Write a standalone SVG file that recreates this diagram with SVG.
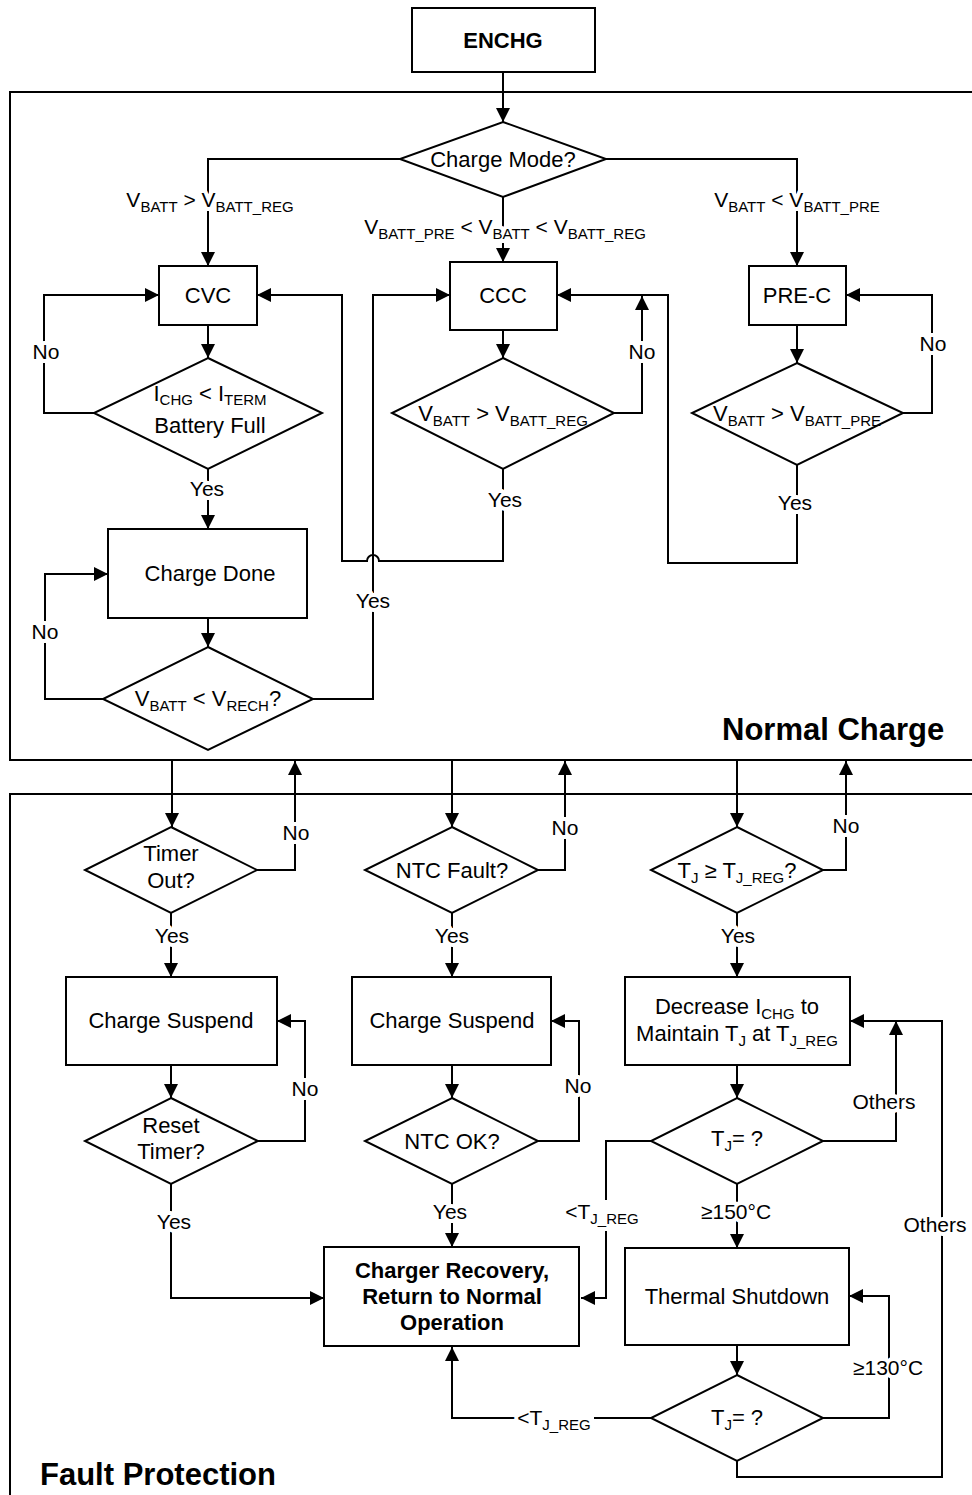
<svg xmlns="http://www.w3.org/2000/svg" width="972" height="1495" viewBox="0 0 972 1495">
<style>
text{font-family:"Liberation Sans",Arial,sans-serif;fill:#000}
.t{font-size:22px;text-anchor:middle}
.b{font-weight:bold}
.sub{font-size:15px}
.lbl{font-size:21px;text-anchor:middle;stroke:#fff;stroke-width:8px;stroke-linejoin:round;paint-order:stroke}
.title{font-size:31px;font-weight:bold}
.shape{fill:#fff;stroke:#000;stroke-width:2}
.frame{fill:none;stroke:#000;stroke-width:2}
.c{fill:none;stroke:#000;stroke-width:2}
.a{marker-end:url(#arr)}
.bg{fill:#fff}
</style>
<defs>
<marker id="arr" markerUnits="userSpaceOnUse" markerWidth="14" markerHeight="14" refX="14" refY="7" orient="auto" viewBox="0 0 14 14">
<path d="M0,0 L14,7 L0,14 z" fill="#000"/>
</marker>
</defs>
<rect fill="#fff" x="0" y="0" width="972" height="1495"/>
<g id="frames">
<rect class="frame" x="10" y="92" width="980" height="668"/>
<rect class="frame" x="10" y="794" width="980" height="730"/>
<text class="title" x="722" y="740">Normal Charge</text>
<text class="title" x="40" y="1485">Fault Protection</text>
</g>
<g id="connectors">
<path class="c a" d="M503,72 V122"/>
<path class="c a" d="M400,159 H208 V266"/>
<path class="c a" d="M503,197 V262"/>
<path class="c a" d="M606,159 H797 V266"/>
<path class="c a" d="M208,325 V358"/>
<path class="c a" d="M94,413 H44 V295 H159"/>
<path class="c a" d="M208,469 V529"/>
<path class="c a" d="M208,618 V647"/>
<path class="c a" d="M103,699 H45 V574 H108"/>
<path class="c a" d="M313,699 H373 V295 H450"/>
<path class="c a" d="M503,330 V358"/>
<path class="c a" d="M614,413 H642 V296"/>
<path class="c a" d="M503,469 V561 H379 A6,6 0 0 0 367,561 H342 V295 H257"/>
<path class="c a" d="M797,325 V363"/>
<path class="c a" d="M903,413 H932 V295 H846"/>
<path class="c a" d="M797,465 V563 H668 V295 H557"/>
<path class="c a" d="M172,760 V827"/>
<path class="c a" d="M257,870 H295 V761"/>
<path class="c a" d="M171,913 V977"/>
<path class="c a" d="M171,1065 V1098"/>
<path class="c a" d="M258,1141 H305 V1021 H277"/>
<path class="c a" d="M171,1184 V1298 H324"/>
<path class="c a" d="M452,760 V827"/>
<path class="c a" d="M538,870 H565 V761"/>
<path class="c a" d="M452,913 V977"/>
<path class="c a" d="M452,1065 V1098"/>
<path class="c a" d="M538,1141 H579 V1021 H551"/>
<path class="c a" d="M452,1184 V1247"/>
<path class="c a" d="M737,760 V827"/>
<path class="c a" d="M823,870 H846 V761"/>
<path class="c a" d="M737,913 V977"/>
<path class="c a" d="M737,1065 V1098"/>
<path class="c a" d="M823,1141 H896 V1021"/>
<path class="c a" d="M651,1141 H606 V1298 H581"/>
<path class="c a" d="M737,1184 V1248"/>
<path class="c a" d="M737,1345 V1375"/>
<path class="c a" d="M823,1418 H889 V1296 H849"/>
<path class="c a" d="M651,1418 H452 V1347"/>
<path class="c a" d="M737,1461 V1477 H942 V1021 H850"/>
</g>
<g id="edge-labels">
<text class="lbl" x="210" y="207">V<tspan class="sub" dy="5">BATT</tspan><tspan dy="-5"> &gt; V</tspan><tspan class="sub" dy="5">BATT_REG</tspan></text>
<text class="lbl" x="505" y="234">V<tspan class="sub" dy="5">BATT_PRE</tspan><tspan dy="-5"> &lt; V</tspan><tspan class="sub" dy="5">BATT</tspan><tspan dy="-5"> &lt; V</tspan><tspan class="sub" dy="5">BATT_REG</tspan></text>
<text class="lbl" x="797" y="207">V<tspan class="sub" dy="5">BATT</tspan><tspan dy="-5"> &lt; V</tspan><tspan class="sub" dy="5">BATT_PRE</tspan></text>
<text class="lbl" x="46" y="359">No</text>
<text class="lbl" x="45" y="639">No</text>
<text class="lbl" x="642" y="359">No</text>
<text class="lbl" x="933" y="351">No</text>
<text class="lbl" x="207" y="496">Yes</text>
<text class="lbl" x="373" y="608">Yes</text>
<text class="lbl" x="505" y="507">Yes</text>
<text class="lbl" x="795" y="510">Yes</text>
<text class="lbl" x="296" y="840">No</text>
<text class="lbl" x="565" y="835">No</text>
<text class="lbl" x="846" y="833">No</text>
<text class="lbl" x="172" y="943">Yes</text>
<text class="lbl" x="452" y="943">Yes</text>
<text class="lbl" x="738" y="943">Yes</text>
<text class="lbl" x="305" y="1096">No</text>
<text class="lbl" x="578" y="1093">No</text>
<text class="lbl" x="174" y="1229">Yes</text>
<text class="lbl" x="450" y="1219">Yes</text>
<text class="lbl" x="884" y="1109">Others</text>
<text class="lbl" x="935" y="1232">Others</text>
<rect class="bg" x="565" y="1200" width="76" height="30"/>
<text class="lbl" x="602" y="1219">&lt;T<tspan class="sub" dy="5">J_REG</tspan></text>
<text class="lbl" x="736" y="1219">≥150°C</text>
<text class="lbl" x="888" y="1375">≥130°C</text>
<rect class="bg" x="516" y="1405" width="78" height="30"/>
<text class="lbl" x="554" y="1425">&lt;T<tspan class="sub" dy="5">J_REG</tspan></text>
</g>
<g id="n-enchg">
<rect class="shape" x="412" y="8" width="183" height="64"/>
<text class="t b" x="503" y="48">ENCHG</text>
</g>
<g id="n-mode">
<polygon class="shape" points="503,122 606,159 503,197 400,159"/>
<text class="t" x="503" y="167">Charge Mode?</text>
</g>
<g id="n-cvc">
<rect class="shape" x="159" y="266" width="98" height="59"/>
<text class="t" x="208" y="303">CVC</text>
</g>
<g id="n-ccc">
<rect class="shape" x="450" y="262" width="107" height="68"/>
<text class="t" x="503" y="303">CCC</text>
</g>
<g id="n-prec">
<rect class="shape" x="749" y="266" width="97" height="59"/>
<text class="t" x="797" y="303">PRE-C</text>
</g>
<g id="n-full">
<polygon class="shape" points="208,358 322,413 208,469 94,413"/>
<text class="t" x="210" y="401">I<tspan class="sub" dy="4">CHG</tspan><tspan dy="-4"> &lt; I</tspan><tspan class="sub" dy="4">TERM</tspan></text>
<text class="t" x="210" y="433">Battery Full</text>
</g>
<g id="n-ccc-check">
<polygon class="shape" points="503,358 614,413 503,469 392,413"/>
<text class="t" x="503" y="421">V<tspan class="sub" dy="5">BATT</tspan><tspan dy="-5"> &gt; V</tspan><tspan class="sub" dy="5">BATT_REG</tspan></text>
</g>
<g id="n-pre-check">
<polygon class="shape" points="797,363 903,413 797,465 692,413"/>
<text class="t" x="797" y="421">V<tspan class="sub" dy="5">BATT</tspan><tspan dy="-5"> &gt; V</tspan><tspan class="sub" dy="5">BATT_PRE</tspan></text>
</g>
<g id="n-done">
<rect class="shape" x="108" y="529" width="199" height="89"/>
<text class="t" x="210" y="581">Charge Done</text>
</g>
<g id="n-rech">
<polygon class="shape" points="208,647 313,699 208,750 103,699"/>
<text class="t" x="208" y="706">V<tspan class="sub" dy="5">BATT</tspan><tspan dy="-5"> &lt; V</tspan><tspan class="sub" dy="5">RECH</tspan><tspan dy="-5">?</tspan></text>
</g>
<g id="n-timer">
<polygon class="shape" points="171,827 257,870 171,913 85,870"/>
<text class="t" x="171" y="861">Timer</text>
<text class="t" x="171" y="888">Out?</text>
</g>
<g id="n-ntc">
<polygon class="shape" points="452,827 538,870 452,913 365,870"/>
<text class="t" x="452" y="878">NTC Fault?</text>
</g>
<g id="n-tj">
<polygon class="shape" points="737,827 823,870 737,913 651,870"/>
<text class="t" x="737" y="878">T<tspan class="sub" dy="5">J</tspan><tspan dy="-5"> ≥ T</tspan><tspan class="sub" dy="5">J_REG</tspan><tspan dy="-5">?</tspan></text>
</g>
<g id="n-susp1">
<rect class="shape" x="66" y="977" width="211" height="88"/>
<text class="t" x="171" y="1028">Charge Suspend</text>
</g>
<g id="n-susp2">
<rect class="shape" x="352" y="977" width="199" height="88"/>
<text class="t" x="452" y="1028">Charge Suspend</text>
</g>
<g id="n-decrease">
<rect class="shape" x="625" y="977" width="225" height="88"/>
<text class="t" x="737" y="1014">Decrease I<tspan class="sub" dy="5">CHG</tspan><tspan dy="-5"> to</tspan></text>
<text class="t" x="737" y="1041">Maintain T<tspan class="sub" dy="5">J</tspan><tspan dy="-5"> at T</tspan><tspan class="sub" dy="5">J_REG</tspan></text>
</g>
<g id="n-reset">
<polygon class="shape" points="171,1098 258,1141 171,1184 85,1141"/>
<text class="t" x="171" y="1133">Reset</text>
<text class="t" x="171" y="1159">Timer?</text>
</g>
<g id="n-ntcok">
<polygon class="shape" points="452,1098 538,1141 452,1184 365,1141"/>
<text class="t" x="452" y="1149">NTC OK?</text>
</g>
<g id="n-tj2">
<polygon class="shape" points="737,1098 823,1141 737,1184 651,1141"/>
<text class="t" x="737" y="1146">T<tspan class="sub" dy="5">J</tspan><tspan dy="-5">= ?</tspan></text>
</g>
<g id="n-recovery">
<rect class="shape" x="324" y="1247" width="255" height="99"/>
<text class="t b" x="452" y="1278">Charger Recovery,</text>
<text class="t b" x="452" y="1304">Return to Normal</text>
<text class="t b" x="452" y="1330">Operation</text>
</g>
<g id="n-shutdown">
<rect class="shape" x="625" y="1248" width="224" height="97"/>
<text class="t" x="737" y="1304">Thermal Shutdown</text>
</g>
<g id="n-tj3">
<polygon class="shape" points="737,1375 823,1418 737,1461 651,1418"/>
<text class="t" x="737" y="1425">T<tspan class="sub" dy="5">J</tspan><tspan dy="-5">= ?</tspan></text>
</g>
</svg>
